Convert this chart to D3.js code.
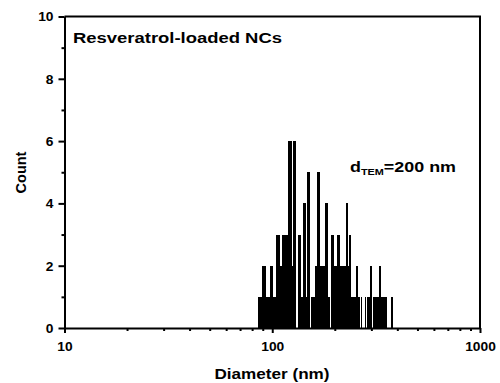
<!DOCTYPE html>
<html>
<head>
<meta charset="utf-8">
<script src="https://cdn.jsdelivr.net/npm/d3@7/dist/d3.min.js"></script>
<style>
  html, body { margin: 0; padding: 0; background: #fff; }
  svg { display: block; }
  text { font-family: Arial, "Liberation Sans", sans-serif; font-weight: bold; fill: #000; }
</style>
</head>
<body>
<script>
// ---- data ----
// histogram bin edges (nm) and counts per bin
const binEdges = [85, 89, 93, 97, 101, 104.5, 108.5, 111.7, 119.4, 123.8, 125.7, 130.4, 132.3, 137.4,
  141, 145.7, 147.4, 151.8, 153.5, 161.5, 165.1, 170.1, 179.8, 185.3, 190.5, 192.8, 199.3, 206, 212.3,
  226.9, 232, 235.3, 239.8, 253.4, 260, 264, 267.9, 271.8, 279.1, 283.1, 286.3, 296, 302.6, 305,
  325.9, 333.2, 335.4, 348.3, 350.6, 357.3, 374.7, 383.1];
const counts = [1, 2, 1, 2, 1, 3, 2, 3, 6, 2, 6, 0, 3,
  1, 4, 1, 5, 0, 1, 2, 5, 2, 4, 1, 0, 3, 2, 3,
  2, 4, 2, 3, 1, 2, 1, 0, 1, 0, 1, 0, 1, 2, 0,
  1, 2, 0, 1, 0, 1, 0, 1];
const xMajorTicks = [10, 100, 1000];
const xMajorLabels = ["10", "100", "1000"];
const xMinorTicks = [20, 30, 40, 50, 60, 70, 80, 90, 200, 300, 400, 500, 600, 700, 800, 900];
const yMajorTicks = [0, 2, 4, 6, 8, 10];
const yMinorTicks = [1, 3, 5, 7, 9];
const xTitle = "Diameter (nm)";
const yTitle = "Count";
const sampleLabel = "Resveratrol-loaded NCs";
const sizeLabelMain = "d";
const sizeLabelSub = "TEM";
const sizeLabelRest = "=200 nm";

// ---- layout ----
const W = 500, H = 383;
const L = 64.5, R = 480, T = 16.5, B = 328;
const svg = d3.select("body").append("svg").attr("width", W).attr("height", H);

const x = d3.scaleLog().domain([10, 1000]).range([L, R]);
const y = d3.scaleLinear().domain([0, 10]).range([B, T]);

// bars
const bins = counts.map((c, i) => ({ x0: binEdges[i], x1: binEdges[i + 1], c }));
svg.append("g").attr("shape-rendering", "crispEdges")
  .selectAll("rect").data(bins.filter(d => d.c > 0)).join("rect")
  .attr("x", d => x(d.x0))
  .attr("width", d => x(d.x1) - x(d.x0))
  .attr("y", d => y(d.c))
  .attr("height", d => y(0) - y(d.c))
  .attr("fill", "#000");

// frame (top + right)
svg.append("path")
  .attr("d", `M${L},${T}H${R}V${B}`)
  .attr("fill", "none").attr("stroke", "#000").attr("stroke-width", 2);

const sx = 1.15; // horizontal stretch of glyphs in the reference

// x axis minor
const gxm = svg.append("g").attr("transform", `translate(0,${B})`)
  .call(d3.axisBottom(x).tickValues(xMinorTicks).tickSize(3).tickFormat(""));
gxm.select(".domain").remove();
gxm.selectAll("line").attr("stroke-width", 2);
// x axis major
const gx = svg.append("g").attr("transform", `translate(0,${B})`)
  .call(d3.axisBottom(x).tickValues(xMajorTicks).tickSize(5).tickSizeOuter(0)
    .tickFormat((d, i) => xMajorLabels[i]));
gx.select(".domain").attr("stroke-width", 2);
gx.selectAll("line").attr("stroke-width", 2);
gx.selectAll("text").attr("font-size", 12).attr("y", 0).attr("dy", 0)
  .attr("transform", `translate(0,22.7) scale(${sx},1)`);

// y axis minor
const gym = svg.append("g").attr("transform", `translate(${L},0)`)
  .call(d3.axisLeft(y).tickValues(yMinorTicks).tickSize(3).tickFormat(""));
gym.select(".domain").remove();
gym.selectAll("line").attr("stroke-width", 2);
// y axis major
const gy = svg.append("g").attr("transform", `translate(${L},0)`)
  .call(d3.axisLeft(y).tickValues(yMajorTicks).tickSize(6).tickSizeOuter(0).tickFormat(d3.format("d")));
gy.select(".domain").attr("stroke-width", 2);
gy.selectAll("line").attr("stroke-width", 2);
gy.selectAll("text").attr("font-size", 12).attr("x", 0).attr("dy", "0.36em")
  .attr("transform", `translate(-11,0) scale(${sx},1)`);

svg.selectAll(".tick text").style("font-family", "Arial, 'Liberation Sans', sans-serif").style("font-weight", "bold");

// titles
svg.append("text").attr("x", 272).attr("y", 378.5).attr("text-anchor", "middle")
  .attr("font-size", 15).attr("textLength", 115).attr("lengthAdjust", "spacingAndGlyphs")
  .text(xTitle);
svg.append("text").attr("transform", `translate(25.5,172.5) rotate(-90)`).attr("text-anchor", "middle")
  .attr("font-size", 14.5).text(yTitle);

// annotations
svg.append("text").attr("x", 73).attr("y", 42.5).attr("font-size", 14.5)
  .attr("textLength", 209).attr("lengthAdjust", "spacingAndGlyphs").text(sampleLabel);

const t = svg.append("text").attr("x", 350).attr("y", 171.5).attr("font-size", 14)
  .attr("textLength", 106).attr("lengthAdjust", "spacingAndGlyphs");
t.append("tspan").text(sizeLabelMain);
t.append("tspan").attr("font-size", 8.5).attr("dy", 3.5).text(sizeLabelSub);
t.append("tspan").attr("dy", -3.5).text(sizeLabelRest);
</script>
</body>
</html>
